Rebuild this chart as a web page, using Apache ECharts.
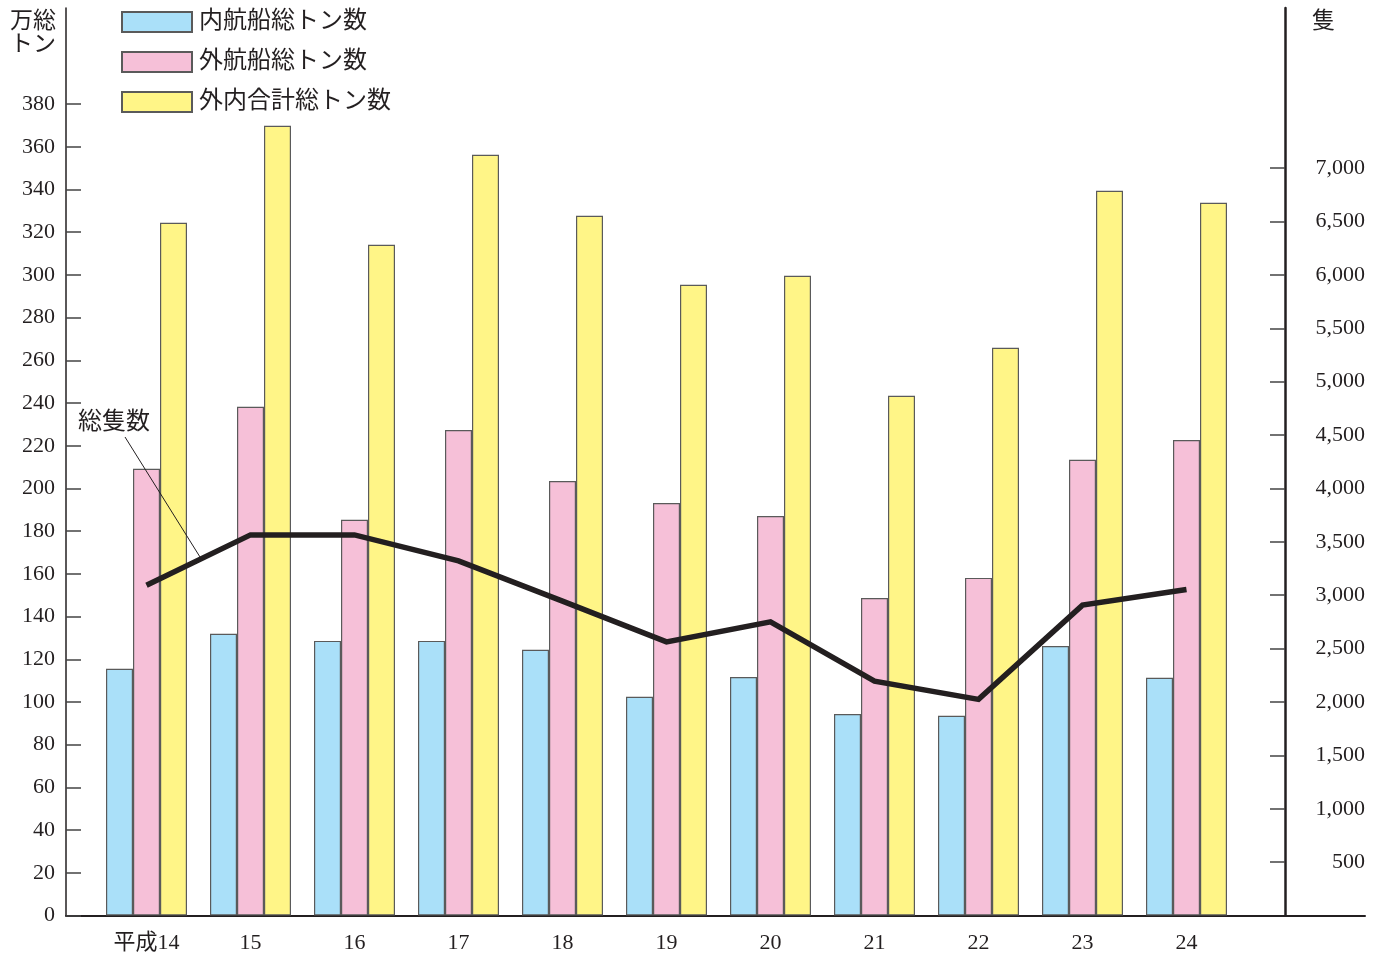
<!DOCTYPE html>
<html><head><meta charset="utf-8">
<script src="https://cdn.jsdelivr.net/npm/echarts@6/dist/echarts.min.js"></script>
<style>html,body{margin:0;padding:0;background:#fff}#c{width:1383px;height:956px}</style>
</head><body><div id="c"></div>
<script>
const categories = ['平成14','15','16','17','18','19','20','21','22','23','24'];
const domesticTons = [115.5,131.9,128.6,128.6,124.4,102.4,111.7,94.4,93.5,126.2,111.3];
const foreignTons  = [209.2,238.2,185.3,227.4,203.5,193.2,187.1,148.7,158.1,213.4,222.7];
const totalTons    = [324.4,369.8,314.1,356.3,327.7,295.4,299.6,243.4,265.9,339.4,333.8];
const shipCount    = [3094,3565,3565,3321,2944,2563,2750,2195,2024,2907,3053];
const leftTicks = [0,20,40,60,80,100,120,140,160,180,200,220,240,260,280,300,320,340,360,380];
const rightTicks = [500,1000,1500,2000,2500,3000,3500,4000,4500,5000,5500,6000,6500,7000];
const seriesNames = ['内航船総トン数','外航船総トン数','外内合計総トン数'];
const lineName = '総隻数';

const FONT = "'Liberation Serif','Noto Sans CJK JP',serif";
const AX = '#231f20';
const chart = echarts.init(document.getElementById('c'));
const barStyle = (c)=>({color:c, borderColor:'#5a5a5a', borderWidth:1.2});
chart.setOption({
  animation:false,
  textStyle:{fontFamily:FONT},
  legend:{
    orient:'vertical', left:116, top:5, itemWidth:70, itemHeight:20, itemGap:16,
    icon:'rect', data:seriesNames, padding:5,
    textStyle:{fontSize:24, color:'#231f20', fontFamily:FONT, lineHeight:20, padding:[0,0,0,2]}
  },
  grid:[
    {left:66, right:18, top:8, bottom:40.5},
    {left:94.5, width:1144, top:8, bottom:40.5}
  ],
  xAxis:[
    {gridIndex:0, type:'value', min:0, max:1, axisLine:{show:true,lineStyle:{color:AX,width:2}},
     axisTick:{show:false}, axisLabel:{show:false}, splitLine:{show:false}},
    {gridIndex:1, type:'category', data:categories, axisLine:{show:false}, axisTick:{show:false},
     axisLabel:{fontSize:22, color:AX, margin:17, fontFamily:FONT}}
  ],
  yAxis:[
    {gridIndex:0, type:'value', min:0, max:425, interval:20, position:'left',
     axisLine:{show:true,lineStyle:{color:AX,width:1.5}},
     axisTick:{show:true, inside:true, length:15, customValues:leftTicks, lineStyle:{color:'#444',width:1.5}},
     axisLabel:{customValues:leftTicks, fontSize:22, color:AX, margin:11, fontFamily:FONT},
     splitLine:{show:false}},
    {gridIndex:0, type:'value', min:0, max:8500, interval:500, position:'right', offset:-80,
     axisLine:{show:true,lineStyle:{color:AX,width:2.5}},
     axisTick:{show:true, inside:true, length:15, customValues:rightTicks, lineStyle:{color:'#444',width:1.5}},
     axisLabel:{customValues:rightTicks, fontSize:22, color:AX, margin:80, align:'right', fontFamily:FONT,
       formatter:(v)=>v.toLocaleString('en-US')},
     splitLine:{show:false}},
    {gridIndex:1, type:'value', min:0, max:425, show:false},
    {gridIndex:1, type:'value', min:0, max:8500, show:false}
  ],
  series:[
    {name:seriesNames[0], type:'bar', xAxisIndex:1, yAxisIndex:2, data:domesticTons, barWidth:27, barGap:'0%', itemStyle:barStyle('#aae0f9')},
    {name:seriesNames[1], type:'bar', xAxisIndex:1, yAxisIndex:2, data:foreignTons, barWidth:27, barGap:'0%', itemStyle:barStyle('#f6c0d8')},
    {name:seriesNames[2], type:'bar', xAxisIndex:1, yAxisIndex:2, data:totalTons, barWidth:27, barGap:'0%', itemStyle:barStyle('#fff587')},
    {name:lineName, type:'line', xAxisIndex:1, yAxisIndex:3, data:shipCount, symbol:'none',
     lineStyle:{color:'#231f20', width:5.5, cap:'butt', join:'miter'}, z:5}
  ],
  graphic:[
    {type:'text', left:10, top:10, style:{text:'万総\nトン', font:"23px "+FONT, fill:AX, lineHeight:23, align:'center'}},
    {type:'text', left:1312, top:10, style:{text:'隻', font:"23px "+FONT, fill:AX}},
    {type:'text', left:78, top:411, style:{text:lineName, font:"24px "+FONT, fill:AX}},
    {type:'line', shape:{x1:125,y1:437,x2:200,y2:557}, style:{stroke:AX, lineWidth:1}, z:10}
  ]
});
</script></body></html>
